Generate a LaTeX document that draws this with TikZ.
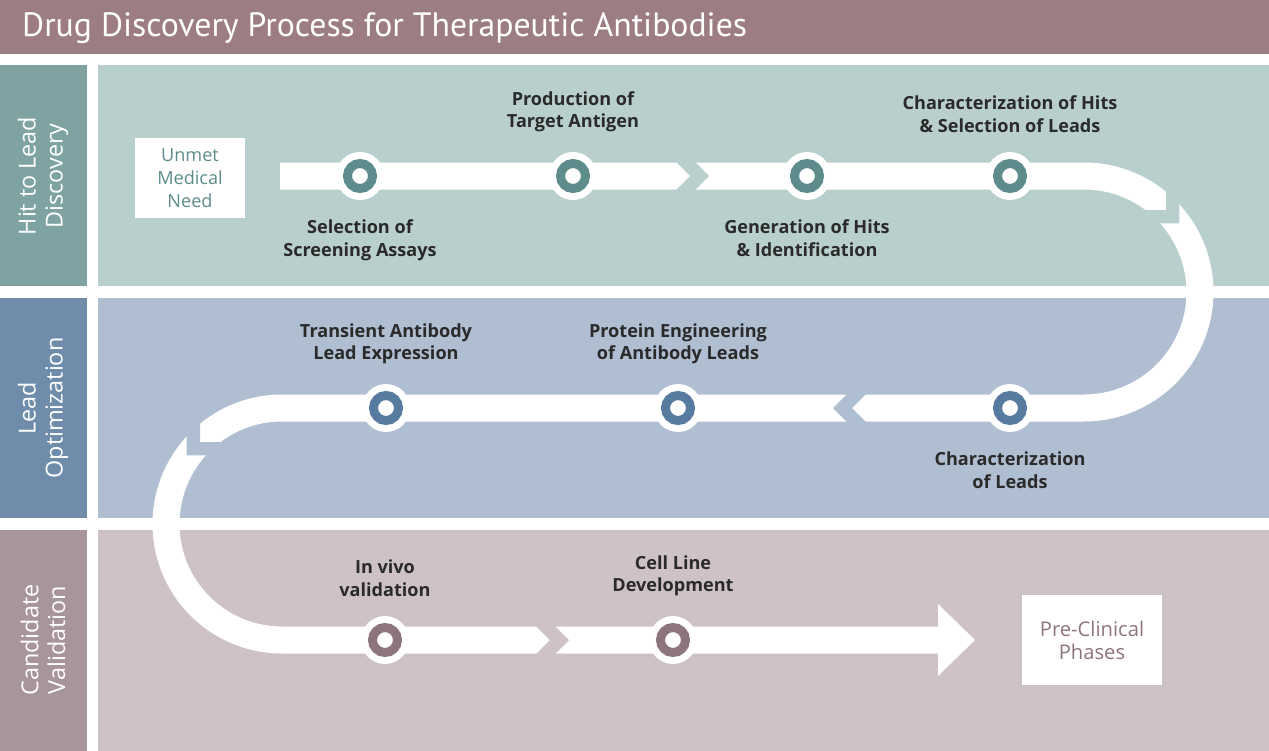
\documentclass[tikz,border=0pt]{standalone}
\usepackage{fontspec}
\setmainfont{Open Sans}
\newfontfamily\headfont{PT Sans}
\usetikzlibrary{positioning}

\definecolor{headbg}{HTML}{9B7D83}
\definecolor{hitside}{HTML}{7FA3A3}
\definecolor{hitbg}{HTML}{B9CFCD}
\definecolor{hitdot}{HTML}{5E8B8B}
\definecolor{optside}{HTML}{6F8CAB}
\definecolor{optbg}{HTML}{AFBED1}
\definecolor{optdot}{HTML}{577B9F}
\definecolor{valside}{HTML}{A8959A}
\definecolor{valbg}{HTML}{CEC2C4}
\definecolor{valdot}{HTML}{8E757C}
\definecolor{txtdark}{HTML}{2A2A2A}

% notch between two pieces of the white band
\newcommand{\chevgap}[3]{\fill[#3,shift={(#1)},rotate=#2] (-15,15) -- (4,15) -- (19,0) -- (4,-15) -- (-15,-15) -- (0,0) -- cycle;}

\begin{document}
\begin{tikzpicture}[x=0.02cm,y=0.02cm,
  band/.style={white, line width=0.54cm},
  stage/.style={circle, fill=white, minimum size=0.96cm, inner sep=0pt,
    path picture={\draw[#1, line width=0.18cm] (path picture bounding box.center) circle[radius=0.25cm];}},
  txt/.style={text=txtdark, font=\bfseries\fontsize{10.3}{13}\selectfont, align=center, inner sep=0pt},
  side/.style={text=white, rotate=90, align=center, font=\fontsize{13.3}{15.3}\selectfont},
  endbox/.style={fill=white, align=center, font=\fontsize{10.3}{13}\selectfont}]

\fill[white] (0,0) rectangle (1269,-751);
\fill[headbg] (0,0) rectangle (1269,-54);
\node[anchor=west, text=white, font=\headfont\fontsize{19.2}{22}\selectfont] (title) at (16,-28) {Drug Discovery Process for Therapeutic Antibodies};

% rows
\fill[hitside] (0,-65) rectangle (87,-286);
\fill[hitbg] (98,-65) rectangle (1269,-286);
\fill[optside] (0,-298) rectangle (87,-518);
\fill[optbg] (98,-298) rectangle (1269,-518);
\fill[valside] (0,-530) rectangle (87,-751);
\fill[valbg] (98,-530) rectangle (1269,-751);

\node[side] (hit) at (43,-176) {Hit to Lead\\Discovery};
\node[side] (opt) at (43,-408) {Lead\\Optimization};
\node[side] (val) at (43,-640) {Candidate\\Validation};

% the white band
\draw[band] (280,-176) -- (1084,-176) arc[start angle=90, end angle=-90, radius=116]
  -- (282,-408) arc[start angle=90, end angle=270, radius=116] -- (940,-640);
\fill[white] (938,-604) -- (975,-640) -- (938,-676) -- cycle;
\chevgap{690,-176}{0}{hitbg}
\chevgap{1166,-210}{-45}{hitbg}
\chevgap{852,-408}{180}{optbg}
\chevgap{200,-442}{225}{optbg}
\chevgap{550,-640}{0}{valbg}

\node[endbox, text=hitdot, minimum width=2.2cm, minimum height=1.6cm] (need) at (190,-178) {Unmet\\Medical\\Need};
\node[endbox, text=valdot, minimum width=2.8cm, minimum height=1.82cm, font=\fontsize{11.5}{13}\selectfont] (preclin) at (1092,-640) {Pre-Clinical\\Phases};

% stages
\node[stage=hitdot] (s1) at (360,-176) {};
\node[stage=hitdot] (s2) at (573,-176) {};
\node[stage=hitdot] (s3) at (807,-176) {};
\node[stage=hitdot] (s4) at (1010,-176) {};
\node[stage=optdot] (s5) at (1010,-408) {};
\node[stage=optdot] (s6) at (678,-408) {};
\node[stage=optdot] (s7) at (386,-408) {};
\node[stage=valdot] (s8) at (385,-640) {};
\node[stage=valdot] (s9) at (673,-640) {};

\node[txt, below=0.38cm of s1] (t1) {Selection of\\Screening Assays};
\node[txt, above=0.38cm of s2] (t2) {Production of\\Target Antigen};
\node[txt, below=0.38cm of s3] (t3) {Generation of Hits\\\& Identification};
\node[txt, above=0.38cm of s4] (t4) {Characterization of Hits\\\& Selection of Leads};
\node[txt, below=0.38cm of s5] (t5) {Characterization\\of Leads};
\node[txt, above=0.38cm of s6] (t6) {Protein Engineering\\of Antibody Leads};
\node[txt, above=0.38cm of s7] (t7) {Transient Antibody\\Lead Expression};
\node[txt, above=0.38cm of s8] (t8) {In vivo\\validation};
\node[txt, above=0.38cm of s9] (t9) {Cell Line\\Development};
\end{tikzpicture}
\end{document}
